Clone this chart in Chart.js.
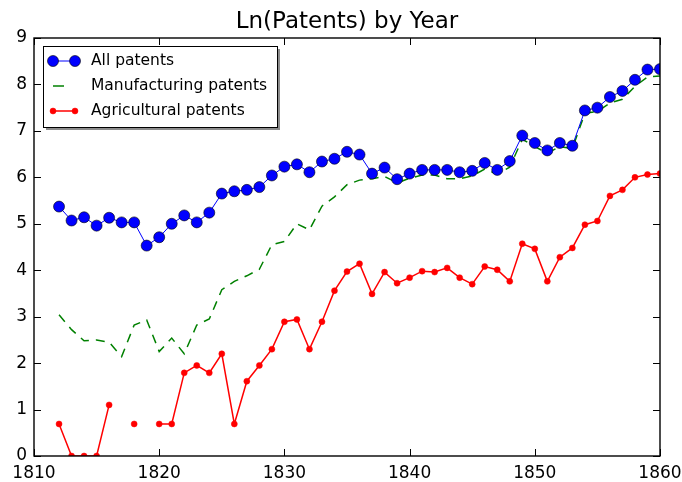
<!DOCTYPE html>
<html>
<head>
<meta charset="utf-8">
<script src="https://cdn.jsdelivr.net/npm/chart.js@4.4.1/dist/chart.umd.min.js"></script>
<style>
  html, body { margin: 0; padding: 0; background: #fff; }
  #wrap { width: 682px; height: 482px; }
</style>
</head>
<body>
<div id="wrap"><canvas id="patChart" width="682" height="482"></canvas></div>
<script>
// data (ln of patent counts)
const years = [1812, 1813, 1814, 1815, 1816, 1817, 1818, 1819, 1820, 1821,
  1822, 1823, 1824, 1825, 1826, 1827, 1828, 1829, 1830, 1831,
  1832, 1833, 1834, 1835, 1836, 1837, 1838, 1839, 1840, 1841,
  1842, 1843, 1844, 1845, 1846, 1847, 1848, 1849, 1850, 1851,
  1852, 1853, 1854, 1855, 1856, 1857, 1858, 1859, 1860];

const allPatents = [5.37, 5.07, 5.14, 4.96, 5.13, 5.03, 5.03, 4.53, 4.71, 5.00,
  5.18, 5.03, 5.24, 5.65, 5.70, 5.73, 5.79, 6.04, 6.23, 6.28,
  6.11, 6.34, 6.40, 6.55, 6.49, 6.08, 6.21, 5.96, 6.08, 6.16,
  6.16, 6.16, 6.11, 6.14, 6.31, 6.16, 6.35, 6.90, 6.74, 6.58,
  6.74, 6.68, 7.44, 7.50, 7.73, 7.86, 8.10, 8.32, 8.33];

const mfgPatents = [3.04, 2.72, 2.48, 2.50, 2.45, 2.14, 2.82, 2.93, 2.25, 2.54,
  2.20, 2.82, 2.95, 3.58, 3.76, 3.88, 4.02, 4.55, 4.62, 5.00,
  4.87, 5.38, 5.58, 5.84, 5.94, 5.97, 6.02, 5.88, 5.98, 6.05,
  6.05, 5.97, 5.97, 6.03, 6.18, 6.07, 6.22, 6.82, 6.66, 6.52,
  6.66, 6.62, 7.38, 7.42, 7.60, 7.68, 7.96, 8.16, 8.18];

// null = no agricultural patents that year (ln 0)
const agPatents = [0.69, 0, 0, 0, 1.10, null, 0.69, null, 0.69, 0.69,
  1.79, 1.95, 1.79, 2.20, 0.69, 1.61, 1.95, 2.30, 2.89, 2.94,
  2.30, 2.89, 3.56, 3.97, 4.14, 3.49, 3.96, 3.72, 3.84, 3.98,
  3.96, 4.05, 3.84, 3.70, 4.08, 4.01, 3.76, 4.57, 4.46, 3.76,
  4.28, 4.48, 4.98, 5.06, 5.60, 5.73, 6.00, 6.06, 6.08];

const xTicks = [1810, 1820, 1830, 1840, 1850, 1860];
const yTicks = [0, 1, 2, 3, 4, 5, 6, 7, 8, 9];
const titleText = 'Ln(Patents) by Year';

const FONT = "'DejaVu Sans', sans-serif";
const toPts = arr => years.map((yr, i) => ({ x: yr, y: arr[i] }));

// white page, title, frame and inward ticks like matplotlib classic
const framePlugin = {
  id: 'frame',
  beforeDraw(chart) {
    const { ctx, chartArea: a } = chart;
    ctx.save();
    ctx.fillStyle = '#fff';
    ctx.fillRect(0, 0, chart.width, chart.height);
    ctx.fillStyle = '#000';
    ctx.font = '23px ' + FONT;
    ctx.textAlign = 'center';
    ctx.textBaseline = 'alphabetic';
    ctx.fillText(titleText, (a.left + a.right) / 2, 28);
    ctx.restore();
  },
  afterDatasetsDraw(chart) {
    const { ctx, chartArea: a, scales: { x, y } } = chart;
    ctx.save();
    ctx.strokeStyle = '#000';
    ctx.lineWidth = 1;
    ctx.beginPath();
    xTicks.forEach(v => {
      const px = Math.round(x.getPixelForValue(v)) + 0.5;
      ctx.moveTo(px, a.bottom); ctx.lineTo(px, a.bottom - 7);
      ctx.moveTo(px, a.top); ctx.lineTo(px, a.top + 7);
    });
    yTicks.forEach(v => {
      const py = Math.round(y.getPixelForValue(v)) + 0.5;
      ctx.moveTo(a.left, py); ctx.lineTo(a.left + 7, py);
      ctx.moveTo(a.right, py); ctx.lineTo(a.right - 7, py);
    });
    ctx.stroke();
    ctx.lineWidth = 1.4;
    ctx.strokeRect(a.left, a.top, a.right - a.left, a.bottom - a.top);
    ctx.restore();
  }
};

// legend box in the upper left, with drop shadow
const legendPlugin = {
  id: 'boxLegend',
  afterDraw(chart) {
    const { ctx } = chart;
    const bx = 43, by = 46, bw = 234, bh = 81;
    ctx.save();
    ctx.fillStyle = 'rgba(0,0,0,0.45)';
    ctx.fillRect(bx + 3, by + 3, bw, bh);
    ctx.fillStyle = '#fff';
    ctx.fillRect(bx, by, bw, bh);
    ctx.strokeStyle = '#000';
    ctx.lineWidth = 1;
    ctx.strokeRect(bx + 0.5, by + 0.5, bw, bh);

    const x0 = 53, x1 = 75;
    const rows = [61, 86, 111];
    chart.data.datasets.forEach((ds, i) => {
      const ry = rows[i];
      ctx.strokeStyle = ds.borderColor;
      ctx.lineWidth = ds.borderWidth;
      ctx.beginPath();
      if (ds.borderDash) { ctx.moveTo(x0, ry); ctx.lineTo(x0 + 11, ry); }
      else { ctx.moveTo(x0, ry); ctx.lineTo(x1, ry); }
      ctx.stroke();
      if (ds.pointRadius > 0) {
        [x0, x1].forEach(px => {
          ctx.beginPath();
          ctx.arc(px, ry, ds.pointRadius, 0, Math.PI * 2);
          ctx.fillStyle = ds.pointBackgroundColor;
          ctx.fill();
          ctx.lineWidth = ds.pointBorderWidth;
          ctx.strokeStyle = ds.pointBorderColor;
          ctx.stroke();
        });
      }
      ctx.fillStyle = '#000';
      ctx.font = '15.5px ' + FONT;
      ctx.textBaseline = 'middle';
      ctx.textAlign = 'left';
      ctx.fillText(ds.label, 91, ry);
    });
    ctx.restore();
  }
};

const ctx = document.getElementById('patChart').getContext('2d');
new Chart(ctx, {
  type: 'line',
  data: {
    datasets: [
      {
        label: 'All patents',
        data: toPts(allPatents),
        borderColor: '#0000ff',
        borderWidth: 1,
        pointRadius: 5.5,
        pointBackgroundColor: '#0000ff',
        pointBorderColor: '#000',
        pointBorderWidth: 0.6,
        tension: 0,
        clip: 0
      },
      {
        label: 'Manufacturing patents',
        data: toPts(mfgPatents),
        borderColor: '#008000',
        borderWidth: 1.5,
        borderDash: [9, 7],
        pointRadius: 0,
        tension: 0,
        clip: 0
      },
      {
        label: 'Agricultural patents',
        data: toPts(agPatents),
        borderColor: '#ff0000',
        borderWidth: 1.5,
        pointRadius: 3,
        pointBackgroundColor: '#ff0000',
        pointBorderColor: '#ff0000',
        pointBorderWidth: 0.5,
        spanGaps: false,
        tension: 0,
        clip: 0
      }
    ]
  },
  options: {
    responsive: false,
    animation: false,
    events: [],
    layout: { padding: { left: 0, right: 22, top: 38, bottom: 0 } },
    plugins: {
      legend: { display: false },
      tooltip: { enabled: false },
      title: { display: false }
    },
    scales: {
      x: {
        type: 'linear',
        min: 1810,
        max: 1860,
        afterBuildTicks: s => { s.ticks = xTicks.map(v => ({ value: v })); },
        afterFit: s => { s.height = 26; s.paddingLeft = 0; s.paddingRight = 0; },
        grid: { display: false, drawTicks: false },
        border: { display: false },
        ticks: {
          color: '#000',
          padding: 7,
          maxRotation: 0,
          autoSkip: false,
          font: { family: FONT, size: 17 },
          callback: v => String(v)
        }
      },
      y: {
        min: 0,
        max: 9,
        afterBuildTicks: s => { s.ticks = yTicks.map(v => ({ value: v })); },
        afterFit: s => { s.width = 34; s.paddingTop = 0; s.paddingBottom = 0; },
        grid: { display: false, drawTicks: false },
        border: { display: false },
        ticks: {
          color: '#000',
          padding: 7,
          autoSkip: false,
          font: { family: FONT, size: 17 },
          callback: v => String(v)
        }
      }
    }
  },
  plugins: [framePlugin, legendPlugin]
});
</script>
</body>
</html>
